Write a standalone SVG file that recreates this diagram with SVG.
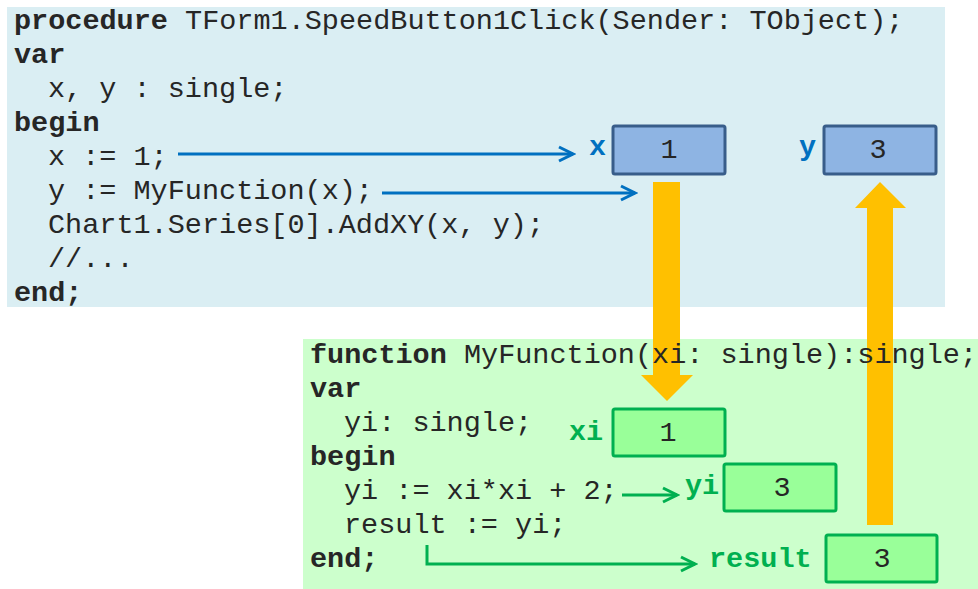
<svg xmlns="http://www.w3.org/2000/svg" width="978" height="589" viewBox="0 0 978 589">
<style>
.code{font-family:"Liberation Mono","Courier New",monospace;font-size:28.5px;fill:#262626}
.b{font-weight:bold}
.lblB{font-family:"Liberation Mono","Courier New",monospace;font-size:28.5px;font-weight:bold;fill:#0070C0}
.lblG{font-family:"Liberation Mono","Courier New",monospace;font-size:28.5px;font-weight:bold;fill:#00B050}
.val{font-family:"Liberation Mono","Courier New",monospace;font-size:28.5px;fill:#262626;text-anchor:middle}
.boxB{fill:#8EB4E3;stroke:#385D8A;stroke-width:3}
.boxG{fill:#99FF99;stroke:#00B050;stroke-width:3}
.arB{fill:none;stroke:#0070C0;stroke-width:3}
.arG{fill:none;stroke:#00B050;stroke-width:3}
.orange{fill:#FFC000}
</style>
<defs>
<marker id="mB" markerUnits="userSpaceOnUse" markerWidth="20" markerHeight="20" viewBox="0 0 20 20" refX="17" refY="10" orient="auto">
<path d="M3,3 L17,10 L3,17" fill="none" stroke="#0070C0" stroke-width="3"/>
</marker>
<marker id="mG" markerUnits="userSpaceOnUse" markerWidth="20" markerHeight="20" viewBox="0 0 20 20" refX="17" refY="10" orient="auto">
<path d="M3,3 L17,10 L3,17" fill="none" stroke="#00B050" stroke-width="3"/>
</marker>
</defs>
<g id="panels">
<rect x="7" y="7" width="938" height="300" fill="#DAEEF3"/>
<rect x="303" y="339" width="675" height="250" fill="#CCFFCC"/>
</g>
<g id="connectors">
<polygon class="orange" points="653,182 680,182 680,375 693,375 667,401 641,375 653,375"/>
<polygon class="orange" points="867,525 893,525 893,208 906,208 880,182 855,208 867,208"/>
<line class="arB" x1="178" y1="154" x2="573" y2="154" marker-end="url(#mB)"/>
<line class="arB" x1="382" y1="193" x2="635" y2="193" marker-end="url(#mB)"/>
<line class="arG" x1="622" y1="495" x2="677" y2="495" marker-end="url(#mG)"/>
<polyline class="arG" points="427,545 427,564 695,564" marker-end="url(#mG)"/>
</g>
<g id="main-code">
<text class="code" x="14" y="29"><tspan class="b">procedure</tspan> TForm1.SpeedButton1Click(Sender: TObject);</text>
<text class="code b" x="14" y="63">var</text>
<text class="code" x="48" y="97">x, y : single;</text>
<text class="code b" x="14" y="131">begin</text>
<text class="code" x="48" y="165">x := 1;</text>
<text class="code" x="48" y="199">y := MyFunction(x);</text>
<text class="code" x="48" y="233">Chart1.Series[0].AddXY(x, y);</text>
<text class="code" x="48" y="267">//...</text>
<text class="code b" x="14" y="301">end;</text>
</g>
<g id="func-code">
<text class="code" x="310" y="363"><tspan class="b">function</tspan> MyFunction(xi: single):single;</text>
<text class="code b" x="310" y="397">var</text>
<text class="code" x="344" y="431">yi: single;</text>
<text class="code b" x="310" y="465">begin</text>
<text class="code" x="344" y="499">yi := xi*xi + 2;</text>
<text class="code" x="344" y="533">result := yi;</text>
<text class="code b" x="310" y="567">end;</text>
</g>
<g id="var-x">
<text class="lblB" x="589" y="155">x</text>
<rect class="boxB" x="613" y="126" width="112" height="48" rx="2"/>
<text class="val" x="669" y="158">1</text>
</g>
<g id="var-y">
<text class="lblB" x="799" y="155">y</text>
<rect class="boxB" x="824" y="126" width="112" height="48" rx="2"/>
<text class="val" x="878" y="158">3</text>
</g>
<g id="var-xi">
<text class="lblG" x="569" y="440">xi</text>
<rect class="boxG" x="613" y="409" width="112" height="47" rx="2"/>
<text class="val" x="668" y="441">1</text>
</g>
<g id="var-yi">
<text class="lblG" x="685" y="494">yi</text>
<rect class="boxG" x="724" y="464" width="112" height="47" rx="2"/>
<text class="val" x="782" y="496">3</text>
</g>
<g id="var-result">
<text class="lblG" x="709" y="567">result</text>
<rect class="boxG" x="826" y="535" width="111" height="47" rx="2"/>
<text class="val" x="882" y="567">3</text>
</g>
</svg>
